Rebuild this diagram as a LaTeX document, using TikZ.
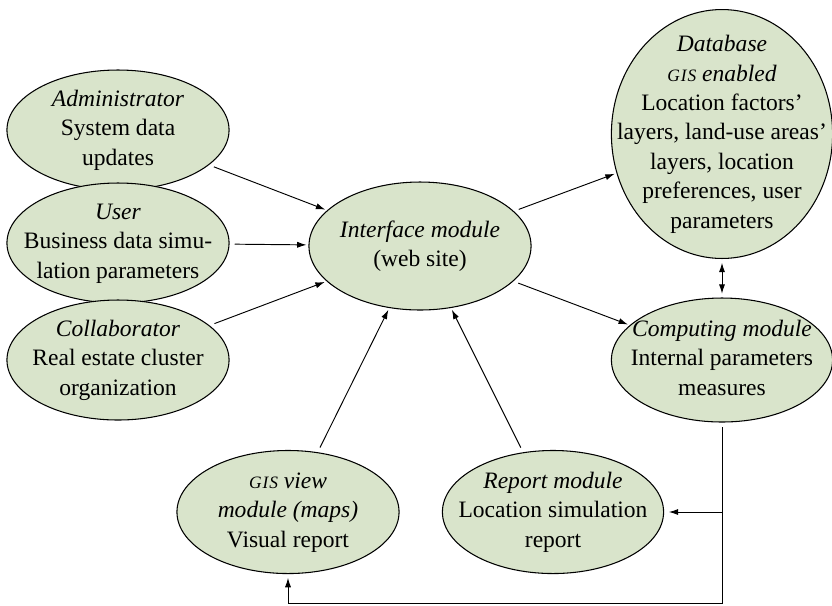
\documentclass[tikz,border=0pt]{standalone}
\usepackage{fontspec}
\setmainfont{Liberation Serif}
\usetikzlibrary{shapes.geometric,arrows.meta,calc}
\definecolor{ellfill}{RGB}{217,228,203}
\newcommand\gissc{{\fontsize{7.4}{9}\selectfont G\kern0.4pt I\kern0.4pt S}}
\newcommand\etext[1]{\makebox[0pt]{\smash{\raisebox{-2.5pt}{$\vcenter{\hbox{\begin{tabular}{@{}c@{}}#1\end{tabular}}}$}}}}
\tikzset{
  ell/.style={ellipse, draw=black, line width=0.45pt, fill=ellfill, inner sep=0pt,
    font=\fontsize{10}{12.5}\selectfont, minimum width=94.4pt, minimum height=51pt},
  tipd/.style={-{Latex[length=4pt,width=2.6pt]}, line width=0.4pt},
  arr/.style={tipd, shorten <=2.2pt, shorten >=0.8pt},
}
\begin{document}
\begin{tikzpicture}[x=0.425pt, y=-0.425pt]
\useasboundingbox (0,0) rectangle (832,605);
\node[ell] (admin) at (118,130) {\etext{\textit{Administrator}\\System data\\updates}};
\node[ell] (user) at (118,243) {\etext{\textit{User}\\Business data simu-\\lation parameters}};
\node[ell] (collab) at (118,360) {\etext{\textit{Collaborator}\\Real estate cluster\\organization}};
\node[ell, minimum height=54.4pt] (iface) at (420,246) {\etext{\textit{Interface module}\\(web site)}};
\node[ell, minimum height=105.8pt, minimum width=94pt] (db) at (722,134) {\etext{\textit{Database}\\\textit{\gissc{} enabled}\\Location factors’\\layers, land-use areas’\\layers, location\\preferences, user\\parameters}};
\node[ell, minimum height=52.7pt, minimum width=94pt] (comp) at (722,360) {\etext{\textit{Computing module}\\Internal parameters\\measures}};
\node[ell, minimum height=52.3pt] (gis) at (288,512) {\etext{\textit{\gissc{} view}\\\textit{module (maps)}\\Visual report}};
\node[ell, minimum height=52.3pt, minimum width=94pt] (report) at (553,512) {\etext{\textit{Report module}\\Location simulation\\report}};

\draw[arr] (admin) -- (iface);
\draw[arr] (user) -- (iface);
\draw[arr] (collab) -- (iface);
\draw[arr] (iface) -- (db);
\draw[arr] (iface) -- (comp);
\draw[arr] (gis) -- (iface);
\draw[arr] (report) -- (iface);
\draw[{Latex[length=4pt,width=2.6pt]}-{Latex[length=4pt,width=2.6pt]}, line width=0.4pt, shorten <=1.6pt, shorten >=1.6pt] (db) -- (comp);

\coordinate (jn) at (comp.south |- report.east);
\coordinate (bt) at (comp.south |- 0,603);
\draw[tipd, shorten <=2pt, shorten >=1.6pt] (comp.south) -- (bt) -| (gis.south);
\draw[tipd, shorten >=2pt] (jn) -- (report.east);
\end{tikzpicture}
\end{document}
